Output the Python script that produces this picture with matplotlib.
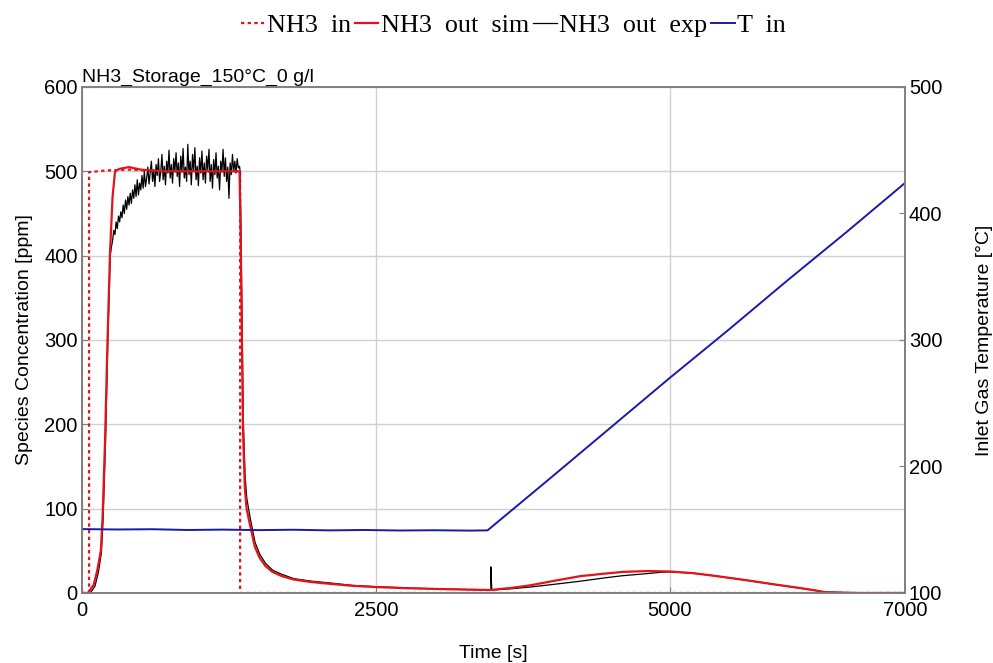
import numpy as np
from matplotlib import pyplot as plt

plt.rcParams['font.family'] = ['Liberation Sans', 'DejaVu Sans']

# NH3 inlet (ppm)
t_in = [0, 60, 60, 200, 400, 700, 1000, 1345, 1345, 7000]
nh3_in = [0, 0, 499, 501, 502, 500, 500, 500, 0, 0]

# simulated outlet (ppm)
t_sim = [0, 50, 100, 130, 160, 175, 196, 215, 238, 260, 281, 320, 400, 500, 700,
         1000, 1340, 1350, 1360, 1370, 1385, 1400, 1430, 1470, 1510, 1560, 1620,
         1700, 1800, 1950, 2100, 2300, 2500, 2800, 3100, 3470, 3650, 3810, 4000,
         4240, 4450, 4600, 4810, 5000, 5200, 5400, 5660, 5850, 6000, 6100, 6220,
         6320, 6600, 7000]
nh3_sim = [0, 0, 10, 27, 50, 90, 181, 290, 403, 470, 500, 503, 505, 502, 500,
           500, 500, 420, 300, 190, 125, 100, 80, 55, 42, 32, 25,
           20, 16, 13, 11, 8.5, 7, 5.5, 4.5, 3.5, 6, 9, 14,
           20, 23, 25, 26, 25.5, 23.5, 20, 15, 11, 8, 6, 3.5,
           1, 0, 0]

# measured outlet (ppm)
t_exp_a = [0, 70, 110, 140, 165, 180, 200, 220, 240]
nh3_exp_a = [0, 0, 8, 25, 48, 90, 180, 300, 400]
t_exp_b = np.arange(250, 1341, 10)
nh3_exp_b = [410, 418, 430, 425, 440, 432, 447, 440, 452, 445,
             460, 450, 466, 455, 470, 460, 474, 462, 478, 468,
             484, 470, 490, 472, 486, 478, 495, 480, 500, 482,
             492, 505, 485, 498, 512, 488, 502, 482, 508, 495,
             515, 488, 500, 520, 490, 506, 484, 512, 498, 525,
             492, 508, 486, 515, 500, 522, 494, 510, 482, 518,
             500, 527, 492, 505, 488, 532, 496, 512, 484, 520,
             500, 528, 490, 506, 483, 516, 498, 524, 490, 510,
             486, 518, 502, 526, 488, 508, 480, 514, 496, 522,
             492, 506, 478, 512, 500, 526, 494, 516, 488, 505,
             468, 510, 496, 520, 500, 512, 498, 515, 504, 506]
t_exp_c = [1345, 1352, 1362, 1372, 1387, 1402, 1432, 1472, 1512, 1562, 1622, 1702,
           1802, 1952, 2102, 2300, 2500, 2800, 3100, 3470, 3478, 3478, 3486, 3650,
           3810, 4000, 4240, 4450, 4600, 4810, 4920, 5000, 5200, 5400, 5660, 5850,
           6000, 6100, 6220, 6320, 6600, 7000]
nh3_exp_c = [500, 430, 320, 205, 140, 112, 88, 60, 46, 35, 27,
             22, 17, 14, 12, 9, 7.5, 5.8, 4.6, 3.5, 3.5, 31, 3.5, 5,
             7, 10, 14, 18, 20.5, 23, 24.5, 25, 23.5, 20, 15, 11,
             8, 6, 3.5, 1, 0, 0]

# inlet gas temperature (degC)
t_T = [0, 300, 600, 900, 1200, 1500, 1800, 2100, 2400, 2700, 3000, 3300, 3450,
       4000, 4500, 5000, 5500, 6000, 6500, 7000]
T_in = [150.5, 150.2, 150.4, 149.8, 150.1, 149.7, 150, 149.5, 149.8, 149.4, 149.6,
        149.3, 149.5, 192, 231, 270, 308, 347, 385, 424]

red = "#e3121b"
blue = "#1a1aa8"

fig = plt.figure(figsize=(9.93, 6.63), dpi=100)
ax = fig.add_axes([0.0826, 0.1056, 0.8286, 0.7632])
ax2 = ax.twinx()

l1, = ax.plot(t_in, nh3_in, color=red, lw=1.6, ls=(0, (1.5, 1.5)), label="NH3  in")
l2, = ax.plot(t_sim, nh3_sim, color=red, lw=1.6, label="NH3  out  sim", zorder=4)
t_exp = list(t_exp_a) + list(t_exp_b) + list(t_exp_c)
nh3_exp = list(nh3_exp_a) + list(nh3_exp_b) + list(nh3_exp_c)
l3, = ax.plot(t_exp, nh3_exp, color="black", lw=0.9, label="NH3  out  exp", zorder=3)
l4, = ax2.plot(t_T, T_in, color=blue, lw=1.4, label="T  in")

ax.set_xlim(0, 7000)
ax.set_ylim(0, 600)
ax2.set_ylim(100, 500)
ax.set_xticks([0, 2500, 5000, 7000])
ax.set_yticks(range(0, 601, 100))
ax2.set_yticks(range(100, 501, 100))
ax.grid(True, color="#d0d0d0", lw=1.0)
ax.set_axisbelow(True)

for a in (ax, ax2):
    for s in a.spines.values():
        s.set_color("#808080")
        s.set_linewidth(1.2)
    a.tick_params(direction="in", length=4, color="#808080", labelsize=14.5, pad=3)
ax.tick_params(axis="x", pad=6)

ax.set_xlabel("Time [s]", fontsize=14, labelpad=18)
ax.set_ylabel("Species Concentration [ppm]", fontsize=14, labelpad=8)
ax2.set_ylabel("Inlet Gas Temperature [°C]", fontsize=14, labelpad=24)
ax.set_title("NH3_Storage_150°C_0 g/l", loc="left", fontsize=14, pad=4)

fig.legend(handles=[l1, l2, l3, l4], loc="upper center", bbox_to_anchor=(0.517, 1.015),
           ncol=4, frameon=False, handlelength=0.9, handletextpad=0.1,
           columnspacing=0.15, prop={"family": "Liberation Serif", "size": 18.8})

fig.savefig("out.png", dpi=100)
